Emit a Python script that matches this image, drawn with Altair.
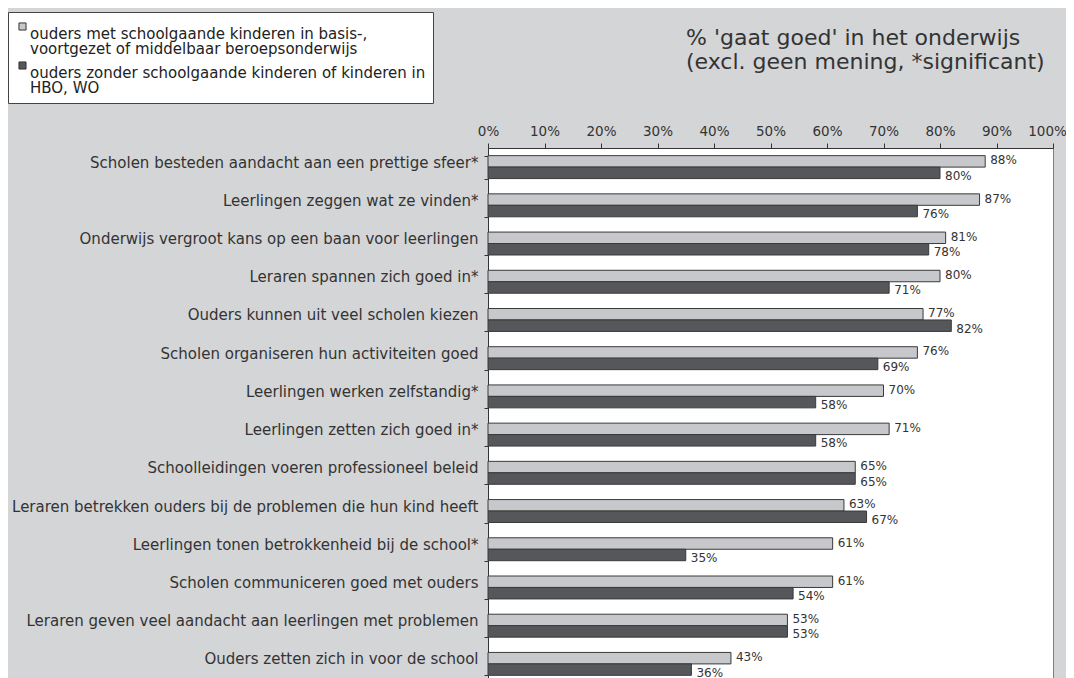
import altair as alt
import pandas as pd

categories = [
    "Scholen besteden aandacht aan een prettige sfeer*",
    "Leerlingen zeggen wat ze vinden*",
    "Onderwijs vergroot kans op een baan voor leerlingen",
    "Leraren spannen zich goed in*",
    "Ouders kunnen uit veel scholen kiezen",
    "Scholen organiseren hun activiteiten goed",
    "Leerlingen werken zelfstandig*",
    "Leerlingen zetten zich goed in*",
    "Schoolleidingen voeren professioneel beleid",
    "Leraren betrekken ouders bij de problemen die hun kind heeft",
    "Leerlingen tonen betrokkenheid bij de school*",
    "Scholen communiceren goed met ouders",
    "Leraren geven veel aandacht aan leerlingen met problemen",
    "Ouders zetten zich in voor de school",
]
group_names = [
    "ouders met schoolgaande kinderen in basis-, voortgezet of middelbaar beroepsonderwijs",
    "ouders zonder schoolgaande kinderen of kinderen in HBO, WO",
]
legend_lines = [
    ["ouders met schoolgaande kinderen in basis-,", "voortgezet of middelbaar beroepsonderwijs"],
    ["ouders zonder schoolgaande kinderen of kinderen in", "HBO, WO"],
]
values_with = [88, 87, 81, 80, 77, 76, 70, 71, 65, 63, 61, 61, 53, 43]
values_without = [80, 76, 78, 71, 82, 69, 58, 58, 65, 67, 35, 54, 53, 36]
x_ticks = [0, 10, 20, 30, 40, 50, 60, 70, 80, 90, 100]
title_lines = ["% 'gaat goed' in het onderwijs", "(excl. geen mening, *significant)"]

rows = []
for c, a, b in zip(categories, values_with, values_without):
    rows.append({"cat": c, "grp": group_names[0], "val": a, "ord": 0})
    rows.append({"cat": c, "grp": group_names[1], "val": b, "ord": 1})
df = pd.DataFrame(rows)

def js_list(lines):
    return "[" + ", ".join("'" + s + "'" for s in lines) + "]"

label_expr = (
    "datum.label == '" + group_names[0] + "' ? " + js_list(legend_lines[0]) + " : " + js_list(legend_lines[1])
)

TEXT = "#333333"
LIGHT = "#c7c8cb"
DARK = "#56575b"

x_enc = alt.X(
    "val:Q",
    scale=alt.Scale(domain=[0, 100]),
    axis=alt.Axis(
        orient="top", values=x_ticks, labelExpr="datum.value + '%'", grid=False,
        tickSize=5, labelPadding=5, title=None, domainColor="#333333", tickColor="#333333",
        labelFontSize=13.5, labelColor=TEXT, labelFlush=False,
        labelOffset=alt.condition("datum.value == 100", alt.value(-6), alt.value(0)),
    ),
)
y_enc = alt.Y(
    "cat:N",
    sort=categories,
    scale=alt.Scale(paddingInner=0.4, paddingOuter=0.2),
    axis=alt.Axis(
        title=None, tickBand="extent", labelLimit=600, tickSize=4, labelPadding=6,
        domainColor="#333333", tickColor="#333333", labelFontSize=15, labelColor=TEXT,
        labelOffset=-5,
    ),
)
yoff_enc = alt.YOffset("grp:N", sort=group_names, scale=alt.Scale(paddingInner=0, paddingOuter=0))

base = alt.Chart(df)

bars = base.mark_bar(stroke="#3a3a3a", strokeWidth=1).encode(
    x=x_enc,
    y=y_enc,
    yOffset=yoff_enc,
    color=alt.Color(
        "grp:N",
        sort=group_names,
        scale=alt.Scale(domain=group_names, range=[LIGHT, DARK]),
        legend=alt.Legend(
            orient="none", legendX=-480, legendY=-136, title=None,
            fillColor="white", strokeColor="#444444", padding=7,
            symbolType="square", symbolSize=50, symbolStrokeColor="#333333", symbolStrokeWidth=1,
            labelFontSize=15, labelColor="#222222", labelExpr=label_expr, labelLimit=600,
            rowPadding=1, labelBaseline="top", labelOffset=0,
        ),
    ),
)

text_light = base.transform_filter(alt.datum.ord == 0).transform_calculate(
    lab="datum.val + '%'"
).mark_text(align="left", dx=5, dy=-1, fontSize=12, color=TEXT).encode(
    x=x_enc, y=y_enc, yOffset=yoff_enc, text="lab:N"
)
text_dark = base.transform_filter(alt.datum.ord == 1).transform_calculate(
    lab="datum.val + '%'"
).mark_text(align="left", dx=5, dy=3, fontSize=12, color=TEXT).encode(
    x=x_enc, y=y_enc, yOffset=yoff_enc, text="lab:N"
)

chart = (
    alt.layer(bars, text_light, text_dark)
    .properties(
        width=565,
        height=535,
        padding={"left": 480, "top": 140, "right": 13, "bottom": 0},
        autosize=alt.AutoSizeParams(type="none"),
        title=alt.TitleParams(
            text=title_lines, anchor="start", frame="group", dx=198, fontSize=22,
            fontWeight="normal", color=TEXT, offset=-62, lineHeight=24,
        ),
    )
    .configure(background="#d4d5d7", font="DejaVu Sans", style={"guide-label": {"lineHeight": 15}})
    .configure_view(fill="white", stroke="#808080", strokeWidth=1)
)

chart.save("out.html", embed_options={"renderer": "svg", "actions": False})
